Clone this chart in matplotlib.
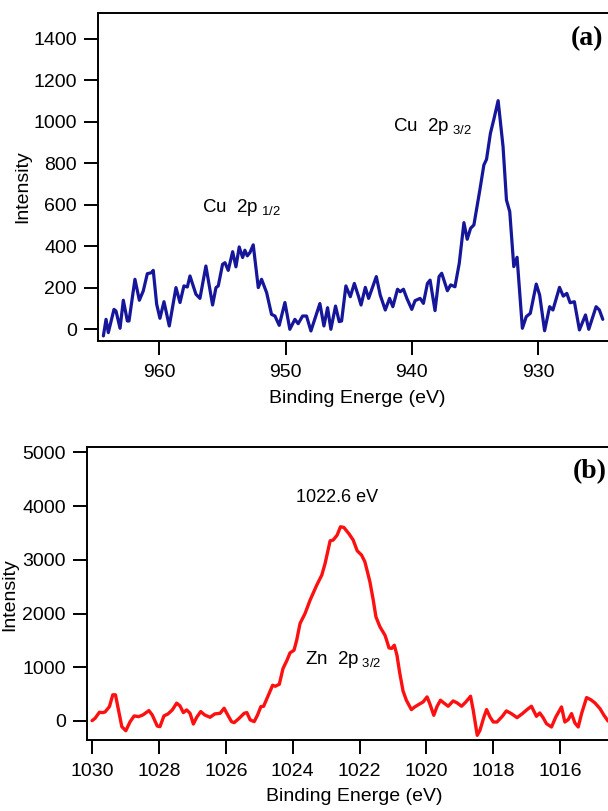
import numpy as np
import matplotlib
matplotlib.use('Agg')
import matplotlib.pyplot as plt

plt.rcParams['font.family'] = ['Liberation Sans', 'DejaVu Sans']
plt.rcParams['mathtext.fontset'] = 'custom'
plt.rcParams['mathtext.rm'] = 'Liberation Sans'
plt.rcParams['mathtext.it'] = 'Liberation Sans'

# Cu 2p spectrum (panel a)
cu_energy = [964.43, 964.22, 964.04, 963.59, 963.43, 963.11, 962.85, 962.53, 962.40, 961.93,
             961.58, 961.27, 960.95, 960.61, 960.48, 960.21, 959.95, 959.63, 959.21, 958.68,
             958.36, 958.05, 957.78, 957.57, 957.10, 956.78, 956.31, 955.78, 955.51, 955.33,
             954.99, 954.80, 954.54, 954.19, 953.93, 953.67, 953.40, 953.22, 953.03, 952.82,
             952.56, 952.16, 951.90, 951.50, 951.11, 950.84, 950.50, 950.05, 949.66, 949.26,
             949.00, 948.65, 948.34, 947.99, 947.28, 946.96, 946.67, 946.41, 946.04, 945.75,
             945.56, 945.22, 944.87, 944.55, 944.21, 944.02, 943.68, 943.42, 942.81, 942.50,
             942.10, 941.76, 941.50, 941.13, 940.92, 940.66, 940.39, 940.00, 939.74, 939.34,
             939.08, 938.76, 938.55, 938.16, 937.84, 937.63, 937.18, 936.92, 936.58, 936.24,
             935.87, 935.61, 935.34, 935.08, 934.61, 934.29, 934.08, 933.77, 933.50, 933.16,
             932.77, 932.50, 932.24, 931.92, 931.66, 931.24, 930.93, 930.61, 930.14, 929.87,
             929.48, 929.08, 928.82, 928.30, 928.00, 927.72, 927.46, 927.12, 926.72, 926.24,
             925.98, 925.40, 925.14, 924.87]
cu_intensity = [-32, 48, -16, 96, 88, 5, 140, 40, 40, 241,
                140, 185, 268, 273, 284, 121, 53, 133, 16, 201,
                129, 209, 204, 257, 169, 149, 305, 117, 201, 209,
                313, 321, 284, 374, 301, 397, 346, 381, 354, 370,
                407, 201, 241, 177, 72, 64, 19, 129, 0, 48,
                27, 64, 64, -8, 124, 16, 104, 0, 112, 37,
                40, 209, 157, 221, 157, 117, 202, 149, 254, 165,
                93, 149, 109, 193, 181, 193, 149, 96, 138, 149,
                125, 221, 237, 90, 254, 270, 186, 214, 205, 318,
                514, 434, 487, 503, 671, 792, 819, 945, 1012, 1102,
                880, 623, 567, 302, 347, 5, 61, 77, 218, 165,
                -7, 109, 93, 202, 160, 173, 128, 133, -3, 69,
                0, 109, 93, 48]

# Zn 2p spectrum (panel b)
zn_energy = [1030.00, 1029.91, 1029.78, 1029.68, 1029.61, 1029.48, 1029.38, 1029.30, 1029.21, 1029.11,
             1028.99, 1028.86, 1028.74, 1028.61, 1028.48, 1028.30, 1028.20, 1028.05, 1027.97, 1027.85,
             1027.73, 1027.60, 1027.47, 1027.37, 1027.27, 1027.17, 1027.07, 1026.97, 1026.87, 1026.75,
             1026.63, 1026.47, 1026.33, 1026.17, 1026.05, 1025.97, 1025.83, 1025.75, 1025.60, 1025.45,
             1025.37, 1025.27, 1025.15, 1025.05, 1024.95, 1024.87, 1024.75, 1024.60, 1024.52, 1024.40,
             1024.29, 1024.17, 1024.08, 1023.96, 1023.88, 1023.78, 1023.63, 1023.48, 1023.28, 1023.13,
             1023.03, 1022.88, 1022.79, 1022.67, 1022.57, 1022.47, 1022.31, 1022.19, 1022.07, 1021.94,
             1021.84, 1021.69, 1021.59, 1021.51, 1021.39, 1021.24, 1021.19, 1021.12, 1021.04, 1020.96,
             1020.88, 1020.80, 1020.70, 1020.60, 1020.45, 1020.35, 1020.22, 1020.10, 1019.98, 1019.90,
             1019.78, 1019.68, 1019.58, 1019.48, 1019.35, 1019.20, 1019.08, 1018.95, 1018.82, 1018.68,
             1018.60, 1018.48, 1018.40, 1018.28, 1018.20, 1018.10, 1018.00, 1017.89, 1017.73, 1017.61,
             1017.46, 1017.29, 1017.13, 1016.99, 1016.86, 1016.71, 1016.61, 1016.51, 1016.41, 1016.26,
             1016.13, 1015.96, 1015.86, 1015.76, 1015.66, 1015.56, 1015.46, 1015.36, 1015.21, 1015.09,
             1014.96, 1014.81, 1014.69, 1014.57]
zn_intensity = [6, 50, 162, 156, 168, 268, 487, 487, 206, -106,
                -181, -12, 94, 81, 112, 193, 112, -94, -106, 94,
                131, 206, 331, 281, 156, 206, 143, -56, 69, 175,
                112, 69, 131, 143, 237, 143, -12, -31, 50, 143,
                156, 19, -12, 112, 268, 273, 447, 664, 646, 683,
                975, 1130, 1267, 1317, 1503, 1814, 2000, 2248, 2528, 2714,
                2932, 3353, 3366, 3459, 3614, 3602, 3478, 3366, 3167, 3087,
                2962, 2590, 2248, 1938, 1752, 1596, 1503, 1360, 1350, 1410,
                1220, 900, 560, 386, 212, 261, 311, 354, 448, 323,
                106, 274, 386, 336, 274, 373, 336, 274, 354, 460,
                199, -267, -174, 75, 212, 75, -19, -19, 87, 187,
                137, 62, 137, 212, 274, 87, 149, 62, -50, -112,
                75, 261, -19, 25, 137, -37, -112, 137, 435, 398,
                336, 230, 106, 0]

cu_ticks_y = [0, 200, 400, 600, 800, 1000, 1200, 1400]
cu_ticks_x = [960, 950, 940, 930]
zn_ticks_y = [0, 1000, 2000, 3000, 4000, 5000]
zn_ticks_x = [1030, 1028, 1026, 1024, 1022, 1020, 1018, 1016]

W, H = 608, 811
fig = plt.figure(figsize=(W / 100, H / 100), dpi=100)


def px_axes(left, top, right, bottom):
    return fig.add_axes([left / W, 1 - bottom / H, (right - left) / W, (bottom - top) / H])


def style_axes(ax):
    for s in ax.spines.values():
        s.set_linewidth(1.4)
    ax.tick_params(axis='both', direction='out', length=10, width=1.4,
                   labelsize=14, top=False, right=False)
    ax.tick_params(axis='x', pad=6.5)
    ax.tick_params(axis='y', pad=5)


ax1 = px_axes(97.7, 12.7, 612, 340.7)
ax1.plot(cu_energy, cu_intensity, color='#16169a', lw=2.3,
         solid_joinstyle='round', solid_capstyle='round')
ax1.set_xlim(964.88, 924.14)
ax1.set_ylim(-55, 1526)
ax1.set_xticks(cu_ticks_x)
ax1.set_yticks(cu_ticks_y)
style_axes(ax1)
ax1.set_xlabel('Binding Energe (eV)', fontsize=14)
ax1.set_ylabel('Intensity', fontsize=14)
ax1.xaxis.set_label_coords(0.504, -0.150)
ax1.yaxis.set_label_coords(-0.130, 0.469)
ax1.text(941.47, 957, r'Cu  2p$_{\ 3/2}$', fontsize=13.5, va='baseline')
ax1.text(956.62, 567, r'Cu  2p$_{\ 1/2}$', fontsize=13.5, va='baseline')
ax1.text(0.9825, 0.920, '(a)', transform=ax1.transAxes, ha='right', va='center',
         fontsize=20, fontweight='bold', family='Liberation Serif')

ax2 = px_axes(86.7, 446.7, 612, 740)
ax2.plot(zn_energy, zn_intensity, color='#ff1010', lw=2.4,
         solid_joinstyle='round', solid_capstyle='round')
ax2.set_xlim(1030.16, 1014.45)
ax2.set_ylim(-354, 5104)
ax2.set_xticks(zn_ticks_x)
ax2.set_yticks(zn_ticks_y)
style_axes(ax2)
ax2.set_xlabel('Binding Energe (eV)', fontsize=14)
ax2.set_ylabel('Intensity', fontsize=14)
ax2.xaxis.set_label_coords(0.509, -0.164)
ax2.yaxis.set_label_coords(-0.131, 0.494)
ax2.text(1022.68, 4167, '1022.6 eV', fontsize=13, ha='center', va='center')
ax2.text(1023.63, 1056, r'Zn  2p$_{\ 3/2}$', fontsize=13.5, va='baseline')
ax2.text(0.9905, 0.914, '(b)', transform=ax2.transAxes, ha='right', va='center',
         fontsize=20, fontweight='bold', family='Liberation Serif')

fig.savefig('out.png', dpi=100)
